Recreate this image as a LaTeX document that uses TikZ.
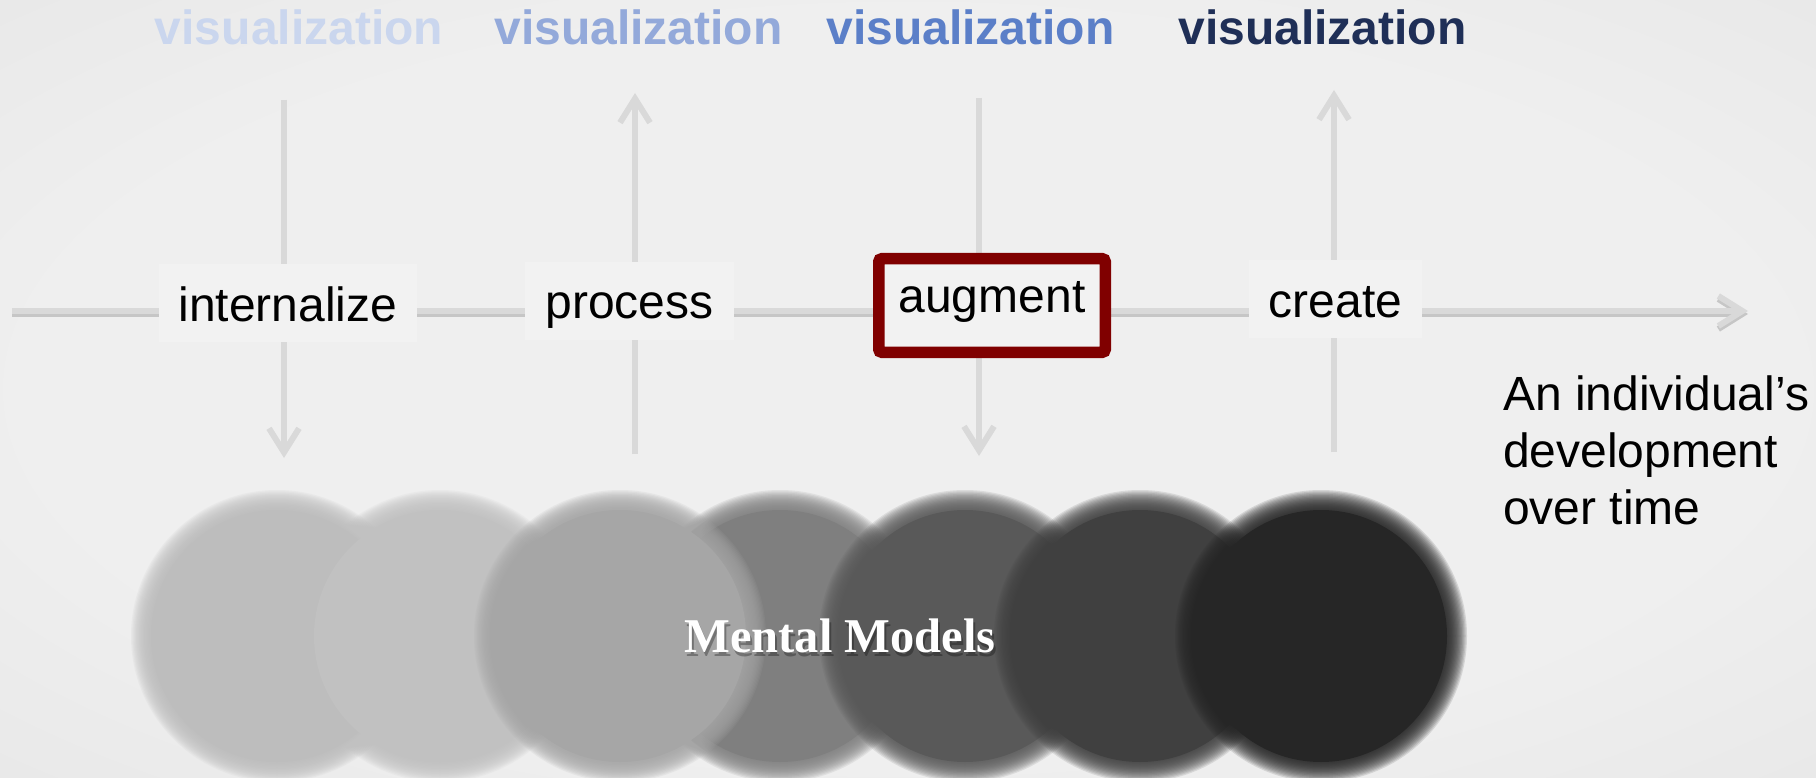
\documentclass[tikz,border=0pt]{standalone}
\usepackage{fontspec}
\setmainfont{Liberation Sans}
\newfontfamily\mmfont{Liberation Serif}
\usetikzlibrary{arrows.meta,shadows}

\definecolor{bgin}{HTML}{EFEFEF}
\definecolor{bgout}{HTML}{E1E1E1}
\definecolor{vizA}{HTML}{CAD6EE}
\definecolor{vizB}{HTML}{93A9DA}
\definecolor{vizC}{HTML}{5B7FC8}
\definecolor{vizD}{HTML}{1F2F57}
\definecolor{flow}{HTML}{D9D9D9}
\definecolor{flowshade}{HTML}{C6C6C6}
\definecolor{boxfill}{HTML}{F2F2F2}
\definecolor{focus}{HTML}{800000}
\definecolor{mA}{HTML}{BDBDBD}
\definecolor{mB}{HTML}{C1C1C1}
\definecolor{mC}{HTML}{A6A6A6}
\definecolor{mD}{HTML}{7F7F7F}
\definecolor{mE}{HTML}{595959}
\definecolor{mF}{HTML}{404040}
\definecolor{mG}{HTML}{262626}

\pgfdeclareradialshading{vignette}{\pgfpoint{0bp}{0bp}}{%
  color(0bp)=(bgin); color(24bp)=(bgin); color(50bp)=(bgout); color(71bp)=(bgout)}

% a disc with a soft edge: x, y, radius, colour
\newcommand\softdisc[4]{%
  \foreach \d in {10,8.75,...,-8.75}{%
    \fill[#4,fill opacity=0.13] (#1,#2) circle[radius={#3+(\d)}];}
  \fill[#4] (#1,#2) circle[radius={#3-10}];}

\tikzset{
  title/.style={font=\bfseries\fontsize{48}{48}\selectfont, anchor=base, inner sep=0pt},
  flowline/.style={draw=flow, line width=6pt},
  flowarrow/.style={flowline, -{Straight Barb[length=24pt,width=30pt]}},
  stage/.style={fill=boxfill, inner sep=0pt, minimum height=78pt,
    font=\fontsize{48}{48}\selectfont, text height=36pt, text depth=0pt},
  focusbox/.style={stage, draw=focus, line width=11.5pt, rounded corners=3pt,
    minimum height=93.5pt, minimum width=226.5pt, text height=14pt,
    drop shadow={opacity=0.22, shadow xshift=0pt, shadow yshift=-5pt}},
  note/.style={font=\fontsize{48}{57}\selectfont, align=left, inner sep=0pt, anchor=north west},
  mmtext/.style={font=\mmfont\bfseries\fontsize{48.5}{50}\selectfont, anchor=base, inner sep=0pt}
}

\begin{document}
\begin{tikzpicture}[x=1pt,y=-1pt]
\useasboundingbox (0,0) rectangle (1816,778);
\shade[shading=vignette] (0,0) rectangle (1816,778);

% mental models, light to dark
\softdisc{277}{636}{136}{mA}
\softdisc{440}{636}{136}{mB}
\softdisc{780}{636}{136}{mD}
\softdisc{620}{636}{136}{mC}
\softdisc{965}{636}{136}{mE}
\softdisc{1140}{636}{136}{mF}
\softdisc{1321}{636}{136}{mG}

\node[mmtext, text=black, opacity=0.3] (mm-shadow) at (842,656) {Mental Models};
\node[mmtext, text=white] (mm) at (840,652) {Mental Models};

% titles
\node[title, text=vizA] (v1) at (299,45) {visualization};
\node[title, text=vizB] (v2) at (638.5,45) {visualization};
\node[title, text=vizC] (v3) at (970.5,45) {visualization};
\node[title, text=vizD] (v4) at (1322.5,45) {visualization};

% end points of the flows
\coordinate (t-start) at (12,311);
\coordinate (t-end) at (1748,311);
\coordinate (a-top) at (284,100);
\coordinate (a-bot) at (284,458);
\coordinate (b-top) at (635,93);
\coordinate (b-bot) at (635,454);
\coordinate (c-top) at (979,98);
\coordinate (c-bot) at (979,456);
\coordinate (d-top) at (1334,90);
\coordinate (d-bot) at (1334,452);

% time line with its shadow
\draw[flowarrow, draw=flowshade] ([yshift=-3pt]t-start) -- ([yshift=-3pt]t-end);
\draw[flowarrow] (t-start) -- (t-end);

% exchanges between visualization and mental models
\draw[flowarrow] (a-top) -- (a-bot);
\draw[flowarrow] (b-bot) -- (b-top);
\draw[flowarrow] (c-top) -- (c-bot);
\draw[flowarrow] (d-bot) -- (d-top);

% stages
\node[stage, minimum width=258pt] (internalize) at (288,303) {internalize};
\node[stage, minimum width=209pt] (process) at (629.5,301) {process};
\node[focusbox] (augment) at (992,305.5) {augment};
\node[stage, minimum width=173pt] (create) at (1335.5,299) {create};

\node[note] (timeline-label) at (1503,375.5) {An individual’s\\development\\over time};
\end{tikzpicture}
\end{document}
